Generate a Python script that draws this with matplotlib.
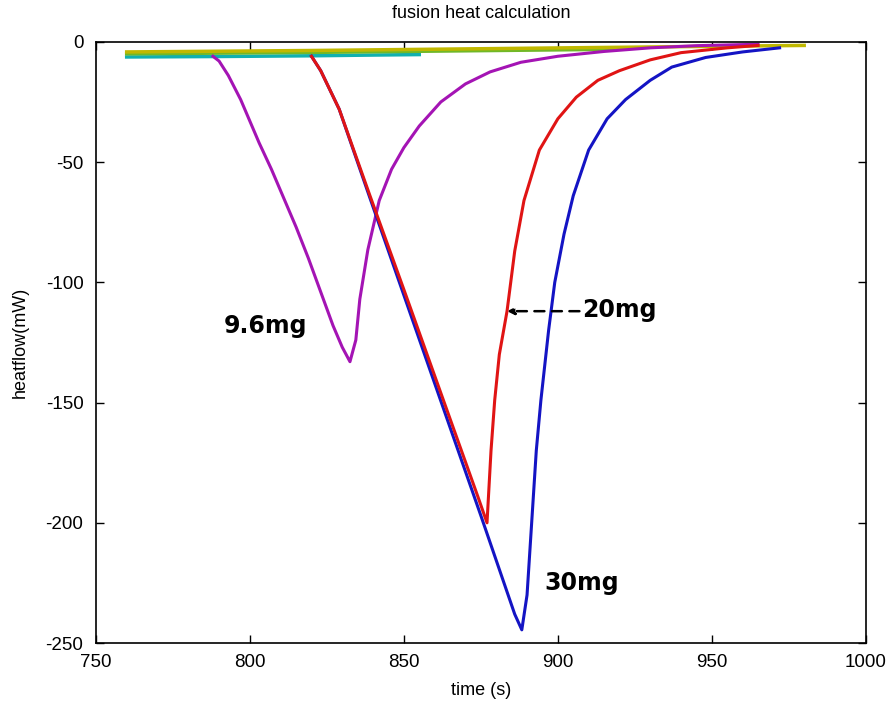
import numpy as np
import matplotlib.pyplot as plt

plt.rcParams['font.family'] = ['Liberation Sans', 'DejaVu Sans']
plt.rcParams['axes.unicode_minus'] = False

# baseline segments (before / after melting)
t_cyan = [760, 790, 820, 840, 855]
q_cyan = [-6.3, -6.1, -5.8, -5.5, -5.3]
t_green = [760, 820, 880, 918]
q_green = [-5.0, -4.4, -3.6, -3.1]
t_yel = [760, 820, 880, 940, 980]
q_yel = [-4.2, -3.6, -2.8, -2.0, -1.5]

# 9.6 mg sample
t_96 = [788, 790, 793, 797, 800, 803, 807, 811, 815, 819, 823, 827, 830,
        832.5, 834.4, 835.7, 838.3, 842, 846, 850, 855, 862, 870, 878, 888,
        900, 915, 930, 945, 965]
q_96 = [-6, -8, -14, -24, -33, -42, -53, -65, -77, -90, -104, -118, -127,
        -133, -124, -107, -86.5, -66, -53, -44, -35, -25, -17.5, -12.5, -8.5,
        -6, -4, -2.5, -1.6, -1]

# 20 mg sample
t_20 = [820, 823, 829, 839, 850, 862, 874, 877, 878.3, 879.5, 881, 883.5,
        886, 889, 894, 900, 906, 913, 920, 930, 940, 955, 965]
q_20 = [-6, -12, -28, -64, -103, -146, -189, -200, -170, -149, -130, -112,
        -87, -66, -45, -32, -23, -16, -12, -7.5, -4.5, -2.5, -1.5]

# 30 mg sample
t_30 = [820, 823, 829, 839, 851, 863, 875, 886, 888.3, 890, 891.5, 893,
        894.5, 897, 899, 902, 905, 910, 916, 922, 930, 937, 948, 960, 972]
q_30 = [-6, -12, -28, -65, -109, -153, -197, -238, -244.5, -230, -200, -170,
        -149, -120, -100, -80, -64, -45, -32, -24, -16, -10.5, -6.5, -4.2, -2.5]

fig = plt.figure(figsize=(8.88, 7.09), dpi=100)
ax = fig.add_axes([0.108, 0.093, 0.867, 0.848])

ax.plot(t_cyan, q_cyan, color='#10b0b0', lw=2.5)
ax.plot(t_green, q_green, color='#70b828', lw=2.5)
ax.plot(t_yel, q_yel, color='#c0b800', lw=2.5)
ax.plot(t_96, q_96, color='#a414b4', lw=2.2)
ax.plot(t_30, q_30, color='#1414c4', lw=2.2)
ax.plot(t_20, q_20, color='#e01414', lw=2.2)

lab = dict(fontsize=17, fontweight='bold', family='DejaVu Sans', va='center')
ax.text(805, -118, '9.6mg', ha='center', **lab)
ax.text(908, -111.5, '20mg', ha='left', **lab)
ax.text(907.8, -225, '30mg', ha='center', **lab)
ax.annotate('', xy=(883.5, -112), xytext=(907, -112),
            arrowprops=dict(arrowstyle='-|>', color='black', lw=1.8,
                            linestyle=(0, (4, 3)), mutation_scale=10,
                            shrinkA=0, shrinkB=0))

ax.set_xlim(750, 1000)
ax.set_ylim(-250, 0)
ax.set_xticks([750, 800, 850, 900, 950, 1000])
ax.set_yticks([-250, -200, -150, -100, -50, 0])
ax.tick_params(direction='in', top=True, right=True, labelsize=13.5, length=6, width=1)
ax.tick_params(axis='x', pad=8)
ax.tick_params(axis='y', pad=9)
for s in ax.spines.values():
    s.set_linewidth(1.2)

ax.set_title('fusion heat calculation', fontsize=13, pad=17)
ax.set_xlabel('time (s)', fontsize=13, labelpad=8)
ax.set_ylabel('heatflow(mW)', fontsize=13, labelpad=12)

fig.savefig('out.png', dpi=100)
